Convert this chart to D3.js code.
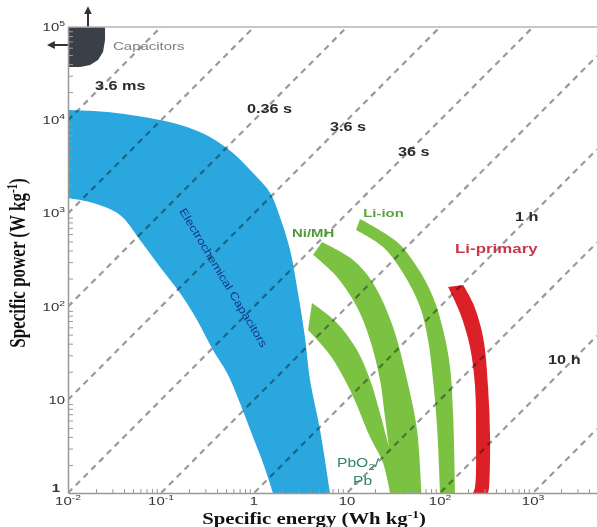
<!DOCTYPE html>
<html>
<head>
<meta charset="utf-8">
<script src="https://cdn.jsdelivr.net/npm/d3@7"></script>
<style>
  body { margin: 0; background: #fff; }
  svg { display: block; font-family: "Liberation Sans", Arial, sans-serif; }
  .axis path, .axis line { stroke: #999; }
  .axis path { stroke-width: 1.5; }
</style>
</head>
<body>
<svg id="chart" width="597" height="527"></svg>
<script>
// Ragone plot: specific power against specific energy, log-log

// axis extents and ticks
var xMin = 0.01, xMax = 4870;
var yMin = 1, yMax = 1e5;
var xTicks = [1e-2, 1e-1, 1, 10, 1e2, 1e3];
var yTicks = [1, 10, 1e2, 1e3, 1e4, 1e5];

// constant discharge-time lines (hours), P = E / t
var timeLines = [1e-6, 1e-5, 1e-4, 1e-3, 1e-2, 1e-1, 1, 10, 100, 1000];

// regions as [energy Wh/kg, power W/kg]; each band = outer edge + inner edge
var capacitorShape = [[0.01, 1e5], [0.025, 1e5], [0.025, 72500], [0.0238, 53900],
  [0.021, 44200], [0.0173, 39100], [0.0135, 37200], [0.01, 37200]];

var ecUpper = [[0.01, 12900], [0.0283, 12200], [0.0975, 10050], [0.19, 8450], [0.336, 6600],
  [0.594, 4450], [0.975, 2710], [1.49, 1655], [1.9, 915], [2.44, 405], [2.97, 140],
  [3.53, 47], [4.0, 16.3], [5.13, 4.74], [6.56, 1]];
var ecLower = [[0.01, 1460], [0.0186, 1290], [0.0362, 961], [0.0594, 518], [0.0975, 266],
  [0.16, 140], [0.244, 71.8], [0.362, 34.2], [0.513, 19.4], [0.706, 9.24], [0.975, 3.99],
  [1.25, 2.1], [1.6, 1]];

var nimhUpper = [[5.38, 493], [11.6, 316], [19.0, 179], [31.2, 60.4], [44.2, 16.3], [56.6, 4.74], [63, 1]];
var nimhLower = [[4.31, 360], [7.8, 208], [12.8, 99], [17.7, 43.8], [22.6, 16.3], [25.6, 6.54], [32.8, 1]];

var pbUpper = [[4.2, 109], [7.8, 66.7], [12.8, 34.2], [17.7, 16.3], [22.6, 7.22], [29, 2.89], [42.1, 1]];
var pbLower = [[3.81, 56.1], [6.56, 30.2], [10.8, 12.7], [17.7, 3.99], [24.4, 2.1], [29, 1]];

var liionUpper = [[13.8, 871], [34.5, 493], [56.6, 266], [84.1, 127], [108, 56.1], [128, 22.5], [138, 7.22], [145, 1]];
var liionLower = [[12.5, 664], [24.4, 436], [40, 229], [61, 99], [74.3, 43.8], [84.1, 16.3], [92.9, 5.11], [100, 1]];

var liprimUpper = [[177, 171], [226, 109], [290, 47.2], [328, 13.7], [345, 3.99], [337, 1.16], [328, 1]];
var liprimLower = [[122, 162], [164, 85.4], [210, 36.9], [238, 13.7], [244, 3.99], [238, 1.16], [226, 1]];

// text notes: [text, energy, power] (start of baseline)
var notes = [
  ["Capacitors", 0.0305, 56600],
  ["3.6 ms", 0.0195, 21100],
  ["0.36 s", 0.84, 11950],
  ["3.6 s", 6.56, 7660],
  ["36 s", 35.3, 4130],
  ["1 h", 640, 829],
  ["10 h", 1450, 24.2],
  ["Ni/MH", 2.56, 558],
  ["Li-ion", 14.9, 915],
  ["Li-primary", 145, 376],
  ["PbO2/", 7.8, 1.9],
  ["Pb", 11.6, 1.22]
];
var ecLabel = ["Electrochemical Capacitors", 0.47, 205];

(function () {
  var svg = d3.select("#chart");
  var plot = {left: 68, right: 597, top: 27, bottom: 493};
  var stretch = 1.3; // the source figure is stretched sideways

  var x = d3.scaleLog().domain([xMin, xMax]).range([plot.left, plot.right]);
  var y = d3.scaleLog().domain([yMin, yMax]).range([plot.bottom, plot.top]);

  var defs = svg.append("defs");
  defs.append("clipPath").attr("id", "plot-clip")
    .append("rect")
    .attr("x", plot.left).attr("y", plot.top)
    .attr("width", plot.right - plot.left).attr("height", plot.bottom - plot.top);
  defs.append("marker")
    .attr("id", "arrow")
    .attr("viewBox", "0 0 10 10")
    .attr("refX", 3).attr("refY", 5)
    .attr("markerWidth", 4).attr("markerHeight", 4)
    .attr("orient", "auto")
    .append("path").attr("d", "M0,0L10,5L0,10z").attr("fill", "#333");

  var edge = d3.line()
    .x(function(d) { return x(d[0]); })
    .y(function(d) { return y(d[1]); })
    .curve(d3.curveCatmullRom.alpha(0.5));

  function band(a, b) {
    return edge(a) + "L" + edge(b.slice().reverse()).slice(1) + "Z";
  }

  // regions
  var shapes = svg.append("g");
  shapes.append("path")
    .attr("d", d3.line().x(function(d) { return x(d[0]); }).y(function(d) { return y(d[1]); })
      .curve(d3.curveLinearClosed)(capacitorShape))
    .attr("fill", "#3b3f47");
  shapes.append("path").attr("d", band(ecUpper, ecLower)).attr("fill", "#2aa7df");
  shapes.append("path").attr("d", band(nimhUpper, nimhLower)).attr("fill", "#7cc242");
  shapes.append("path").attr("d", band(pbUpper, pbLower)).attr("fill", "#7cc242");
  shapes.append("path").attr("d", band(liionUpper, liionLower)).attr("fill", "#7cc242");
  shapes.append("path").attr("d", band(liprimUpper, liprimLower)).attr("fill", "#dc2027");

  // arrows off the capacitor corner
  svg.append("line")
    .attr("x1", x(0.0164)).attr("y1", y(1e5))
    .attr("x2", x(0.0164)).attr("y2", y(1.45e5))
    .attr("stroke", "#333").attr("stroke-width", 2)
    .attr("marker-end", "url(#arrow)");
  svg.append("line")
    .attr("x1", x(0.01)).attr("y1", y(64100))
    .attr("x2", x(0.0068)).attr("y2", y(64100))
    .attr("stroke", "#333").attr("stroke-width", 2)
    .attr("marker-end", "url(#arrow)");

  // constant-time dashed lines
  svg.append("g")
    .attr("clip-path", "url(#plot-clip)")
    .style("mix-blend-mode", "multiply")
    .selectAll("line")
    .data(timeLines)
    .enter().append("line")
    .attr("x1", x(xMin)).attr("y1", function(t) { return y(xMin / t); })
    .attr("x2", x(xMax)).attr("y2", function(t) { return y(xMax / t); })
    .attr("stroke", "#9a9a9a")
    .attr("stroke-width", 2.2)
    .attr("stroke-dasharray", "6,5");

  // axes
  var xMinor = x.ticks().filter(function(v) { return xTicks.indexOf(v) < 0; });
  var yMinor = y.ticks().filter(function(v) { return yTicks.indexOf(v) < 0; });

  svg.append("line")
    .attr("x1", plot.left).attr("x2", plot.right)
    .attr("y1", y(yMax)).attr("y2", y(yMax))
    .attr("stroke", "#b5b5b5").attr("stroke-width", 1.5);

  var gx = svg.append("g").attr("class", "axis")
    .attr("transform", "translate(0," + plot.bottom + ")");
  gx.call(d3.axisBottom(x).tickValues(xTicks).tickSize(-7).tickSizeOuter(0).tickFormat(""));
  gx.call(d3.axisBottom(x).tickValues(xMinor).tickSize(-4).tickSizeOuter(0).tickFormat(""));

  var gy = svg.append("g").attr("class", "axis")
    .attr("transform", "translate(" + plot.left + ",0)");
  gy.call(d3.axisLeft(y).tickValues(yTicks).tickSize(-8).tickSizeOuter(0).tickFormat(""));
  gy.call(d3.axisLeft(y).tickValues(yMinor).tickSize(-5).tickSizeOuter(0).tickFormat(""));

  function powerLabel(sel, v) {
    var e = Math.round(Math.log10(v));
    if (e === 0) { sel.text("1"); return; }
    sel.append("tspan").text("10");
    if (e !== 1) {
      sel.append("tspan").attr("dy", -5).attr("font-size", "8px").text(String(e));
    }
  }

  svg.append("g").selectAll("text")
    .data(xTicks)
    .enter().append("text")
    .attr("transform", function(d) { return "translate(" + x(d) + ",505) scale(" + stretch + ",1)"; })
    .attr("text-anchor", "middle")
    .attr("font-size", "11.5px")
    .attr("fill", "#333")
    .each(function(d) { powerLabel(d3.select(this), d); });

  svg.append("g").selectAll("text")
    .data(yTicks)
    .enter().append("text")
    .attr("transform", function(d) {
      // the "1" sits up and left, clear of the first energy label
      var xx = d === 1 ? plot.left - 8 : plot.left - 3;
      var yy = d === 1 ? y(d) - 1 : y(d) + 4;
      return "translate(" + xx + "," + yy + ") scale(" + stretch + ",1)";
    })
    .attr("text-anchor", "end")
    .attr("font-size", "11.5px")
    .attr("font-weight", function(d) { return d === 1 ? "bold" : "normal"; })
    .attr("fill", "#333")
    .each(function(d) { powerLabel(d3.select(this), d); });

  // axis titles
  var xt = svg.append("text")
    .attr("transform", "translate(314,524) scale(1.22,1)")
    .attr("text-anchor", "middle")
    .attr("font-family", "'Liberation Serif', 'Times New Roman', serif")
    .attr("font-weight", "bold")
    .attr("font-size", "17px")
    .attr("fill", "#111");
  xt.append("tspan").text("Specific energy (Wh kg");
  xt.append("tspan").attr("dy", -6).attr("font-size", "11px").text("-1");
  xt.append("tspan").attr("dy", 6).text(")");

  var yt = svg.append("text")
    .attr("transform", "translate(25,263) rotate(-90) scale(1,1.3)")
    .attr("text-anchor", "middle")
    .attr("font-family", "'Liberation Serif', 'Times New Roman', serif")
    .attr("font-weight", "bold")
    .attr("font-size", "17px")
    .attr("fill", "#111");
  yt.append("tspan").text("Specific power (W kg");
  yt.append("tspan").attr("dy", -6).attr("font-size", "11px").text("-1");
  yt.append("tspan").attr("dy", 6).text(")");

  // notes
  var noteStyle = {
    "Capacitors": {size: 11.5, weight: "normal", color: "#7d7d7d"},
    "Ni/MH": {size: 11.5, weight: "bold", color: "#4f9a37"},
    "Li-ion": {size: 11.5, weight: "bold", color: "#5aa63c"},
    "Li-primary": {size: 13, weight: "bold", color: "#c83848"},
    "PbO2/": {size: 12, weight: "normal", color: "#2f8560"},
    "Pb": {size: 12, weight: "normal", color: "#2f8560"}
  };
  var timeStyle = {size: 12.5, weight: "bold", color: "#2a2a2a"};

  svg.append("g").selectAll("text")
    .data(notes)
    .enter().append("text")
    .attr("transform", function(d) { return "translate(" + x(d[1]) + "," + y(d[2]) + ") scale(" + stretch + ",1)"; })
    .attr("font-size", function(d) { return (noteStyle[d[0]] || timeStyle).size + "px"; })
    .attr("font-weight", function(d) { return (noteStyle[d[0]] || timeStyle).weight; })
    .attr("fill", function(d) { return (noteStyle[d[0]] || timeStyle).color; })
    .each(function(d) {
      var t = d3.select(this);
      if (d[0] === "PbO2/") {
        t.append("tspan").text("PbO");
        t.append("tspan").attr("dy", 3).attr("font-size", "9px").text("2");
        t.append("tspan").attr("dy", -3).text("/");
      } else {
        t.text(d[0]);
      }
    });

  svg.append("text")
    .attr("transform", "translate(" + x(ecLabel[1]) + "," + y(ecLabel[2]) + ") rotate(59)")
    .attr("text-anchor", "middle")
    .attr("dy", "0.35em")
    .attr("font-size", "11px")
    .attr("fill", "#1a3489")
    .attr("textLength", 160)
    .attr("lengthAdjust", "spacingAndGlyphs")
    .text(ecLabel[0]);
}());
</script>
</body>
</html>
